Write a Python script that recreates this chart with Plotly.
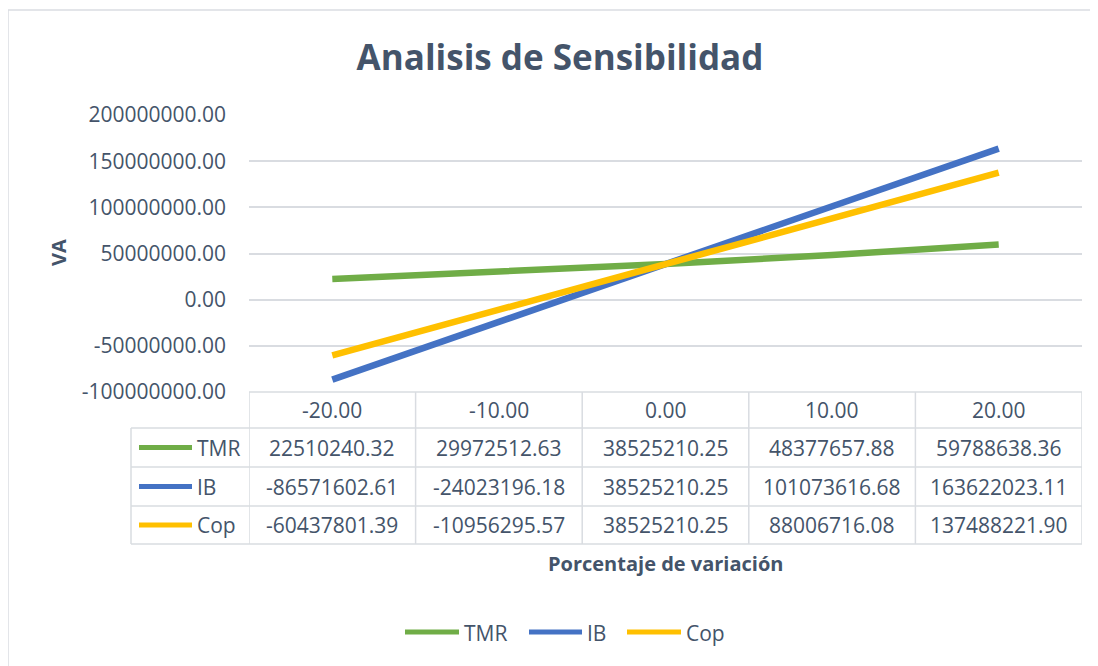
import plotly.graph_objects as go

# ---------------- data ----------------
categories = ["-20.00", "-10.00", "0.00", "10.00", "20.00"]
series_names = ["TMR", "IB", "Cop"]
tmr_values = [22510240.32, 29972512.63, 38525210.25, 48377657.88, 59788638.36]
ib_values = [-86571602.61, -24023196.18, 38525210.25, 101073616.68, 163622023.11]
cop_values = [-60437801.39, -10956295.57, 38525210.25, 88006716.08, 137488221.90]
ytick_vals = [-100000000, -50000000, 0, 50000000, 100000000, 150000000, 200000000]
ytick_text = ["-100000000.00", "-50000000.00", "0.00", "50000000.00",
              "100000000.00", "150000000.00", "200000000.00"]

# ---------------- styling ----------------
OFF = 8                                   # page body margin
W, H = 1090, 658                          # figure size
L, R, T, B = 249, 1082, 115, 392          # plot area in screen pixels
TXT = "#44546A"
GRID = "#D9DCE1"
FONT = "Open Sans"
FS = 21
colors = ["#70AD47", "#4472C4", "#FFC000"]
all_values = [tmr_values, ib_values, cop_values]


def px(x):
    return (x - L) / (R - L)


def py(y):
    return (B - y) / (B - T)


fig = go.Figure()
for name, vals, col in zip(series_names, all_values, colors):
    fig.add_trace(go.Scatter(x=categories, y=vals, name=name, mode="lines",
                             line=dict(color=col, width=6.5), showlegend=False))

shapes = []
annotations = []

# outer chart border (top and left visible)
shapes.append(dict(type="line", xref="paper", yref="paper",
                   x0=px(8), x1=px(1120), y0=py(10), y1=py(10),
                   line=dict(color="#DADDE2", width=1.5)))
shapes.append(dict(type="line", xref="paper", yref="paper",
                   x0=px(8), x1=px(8), y0=py(10), y1=py(700),
                   line=dict(color="#DADDE2", width=1.5)))

# ---- data table ----
row_tops = [392, 428, 467, 506, 544]
shapes.append(dict(type="line", xref="paper", yref="paper", x0=px(249), x1=px(1082),
                   y0=py(392), y1=py(392), line=dict(color=GRID, width=1.5)))
for yy in row_tops[1:]:
    shapes.append(dict(type="line", xref="paper", yref="paper", x0=px(131), x1=px(1082),
                       y0=py(yy), y1=py(yy), line=dict(color=GRID, width=1.5)))
shapes.append(dict(type="line", xref="paper", yref="paper", x0=px(131), x1=px(131),
                   y0=py(428), y1=py(544), line=dict(color=GRID, width=1.5)))
for i in range(len(categories) + 1):
    shapes.append(dict(type="line", xref="x", yref="paper", x0=i - 0.5, x1=i - 0.5,
                       y0=py(392), y1=py(544), line=dict(color=GRID, width=1.5)))

# header
for i, c in enumerate(categories):
    annotations.append(dict(x=i, xref="x", y=py(410), yref="paper", text=c,
                            showarrow=False, font=dict(size=FS, color=TXT, family=FONT),
                            xanchor="center", yanchor="middle"))
row_centers = [447.5, 486.5, 525]
for name, vals, col, yc in zip(series_names, all_values, colors, row_centers):
    shapes.append(dict(type="line", xref="paper", yref="paper", x0=px(139), x1=px(192),
                       y0=py(yc), y1=py(yc), line=dict(color=col, width=5)))
    annotations.append(dict(x=px(195), xref="paper", y=py(yc), yref="paper", text=name,
                            showarrow=False, font=dict(size=FS, color=TXT, family=FONT),
                            xanchor="left", yanchor="middle"))
    for i, v in enumerate(vals):
        annotations.append(dict(x=i, xref="x", y=py(yc), yref="paper", text=f"{v:.2f}",
                                showarrow=False, font=dict(size=FS, color=TXT, family=FONT),
                                xanchor="center", yanchor="middle"))

# ---- bottom legend ----
leg_items = [(405, 459, 462), (529, 582, 585), (627, 681, 684)]
for (k0, k1, tx), name, col in zip(leg_items, series_names, colors):
    shapes.append(dict(type="line", xref="paper", yref="paper", x0=px(k0), x1=px(k1),
                       y0=py(632), y1=py(632), line=dict(color=col, width=5)))
    annotations.append(dict(x=px(tx), xref="paper", y=py(633), yref="paper", text=name,
                            showarrow=False, font=dict(size=FS, color=TXT, family=FONT),
                            xanchor="left", yanchor="middle"))

# axis titles
annotations.append(dict(x=px(665), xref="paper", y=py(563), yref="paper",
                        text="<b>Porcentaje de variación</b>", showarrow=False,
                        font=dict(size=20, color=TXT, family=FONT),
                        xanchor="center", yanchor="middle"))
annotations.append(dict(x=px(58), xref="paper", y=py(253), yref="paper",
                        text="<b>VA</b>", showarrow=False, textangle=-90,
                        font=dict(size=20, color=TXT, family=FONT),
                        xanchor="center", yanchor="middle"))

fig.update_layout(
    width=W, height=H,
    margin=dict(l=L - OFF, r=(W + OFF) - R, t=T - OFF, b=(H + OFF) - B, pad=0),
    paper_bgcolor="white", plot_bgcolor="white",
    font=dict(family=FONT, color=TXT, size=FS),
    title=dict(text="<b>Analisis de Sensibilidad</b>", x=(560 - OFF) / W, xref="container",
               xanchor="center", y=1 - (58 - OFF) / H, yref="container", yanchor="middle",
               font=dict(size=35, color=TXT, family=FONT)),
    xaxis=dict(type="category", range=[-0.5, 4.5], showticklabels=False, showgrid=False,
               zeroline=False, showline=False, ticks=""),
    yaxis=dict(range=[-100000000, 200000000], tickvals=ytick_vals, ticktext=ytick_text,
               showgrid=True, gridcolor=GRID, gridwidth=1.5, zeroline=False,
               showline=False, ticks="", ticklabelstandoff=22,
               tickfont=dict(size=FS, color=TXT, family=FONT)),
    shapes=shapes, annotations=annotations, showlegend=False,
)

fig.write_html("out.html")
